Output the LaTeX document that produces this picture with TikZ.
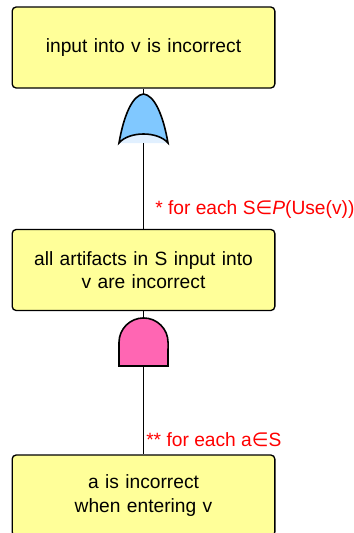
\documentclass[tikz,border=0pt]{standalone}
\usepackage{fontspec}
\setmainfont{Liberation Sans}
\newfontfamily\symfont{DejaVu Sans}
\definecolor{boxyellow}{RGB}{255,255,153}
\definecolor{orblue}{RGB}{128,200,255}
\definecolor{orpale}{RGB}{225,240,255}
\definecolor{andpink}{RGB}{255,102,179}
\begin{document}
\begin{tikzpicture}[x=0.75pt,y=-0.75pt,
    event/.style={draw=black,line width=1pt,fill=boxyellow,rounded corners=3pt,
      minimum width=197pt,minimum height=60.75pt,text width=190pt,align=center,
      font=\fontsize{14.4}{17.3}\selectfont},
    cond/.style={text=red,anchor=west,inner sep=0pt,font=\fontsize{14.4}{17.3}\selectfont}]
      \useasboundingbox (0,0) rectangle (354,533);
      \node[event] (top) at (143.5,47.5) {input into v is incorrect};
      \node[event] (mid) at (143.5,270) {all artifacts in S input into\\v are incorrect};
      \node[event] (bot) at (143.5,495.5) {a is incorrect\\when entering v};
      % OR gate
      \fill[orpale] (119,143) .. controls (128,131) and (158,131) .. (168,143) -- cycle;
      \draw[line width=1.2pt,fill=orblue] (119,143) .. controls (124,114) and (133,95) .. (143.5,94)
        .. controls (154,95) and (163,114) .. (168,143) .. controls (158,131) and (129,131) .. (119,143) -- cycle;
      \coordinate (ortop) at (143.5,94);
      \coordinate (orbot) at (143.5,143);
      % AND gate
      \draw[line width=1.2pt,fill=andpink] (119,366) -- (119,342.5)
        arc[start angle=180,end angle=0,radius=18.4pt] -- (168,366) -- cycle;
      \coordinate (andtop) at (143.5,318);
      \coordinate (andbot) at (143.5,366);
      \draw[line width=0.9pt] (top.south) -- (ortop);
      \draw[line width=0.9pt] (orbot) -- (mid.north);
      \draw[line width=0.9pt] (mid.south) -- (andtop);
      \draw[line width=0.9pt] (andbot) -- (bot.north);
      \node[cond] (each S) at (155,210) {* for each S{\symfont ∈}\textit{P}(Use(v))};
      \node[cond] (each a) at (146,440) {** for each a{\symfont ∈}S};
    \end{tikzpicture}
\end{document}
